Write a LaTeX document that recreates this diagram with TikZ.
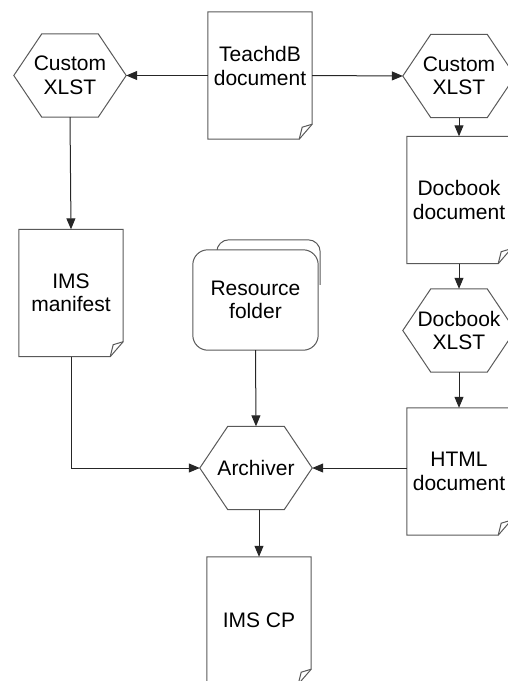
\documentclass[tikz,border=0pt]{standalone}
\usepackage{fontspec}
\setmainfont{Liberation Sans}
\usetikzlibrary{arrows.meta}

\tikzset{
  outline/.style={draw=black!65, line width=1pt},
  conn/.style={draw=black!85, line width=1pt, -{Triangle[length=11pt,width=9pt]}},
  docbox/.style={minimum width=104pt, minimum height=127pt, inner sep=0pt, align=center,
    font=\fontsize{21}{23.5}\selectfont},
  hexbox/.style={minimum width=112pt, minimum height=83pt, inner sep=0pt, align=center,
    font=\fontsize{21}{23.5}\selectfont},
}

% page with a folded corner
\newcommand{\docpage}[4][]{%
  \node[docbox, #1] (#2) at (#3) {#4};
  \draw[outline] (#2.north west) -- (#2.north east) -- ([yshift=15pt]#2.south east)
    -- ([xshift=-13pt]#2.south east) -- (#2.south west) -- cycle;
  \draw[outline] ([xshift=-13pt]#2.south east) -- ([xshift=-10pt,yshift=12pt]#2.south east)
    -- ([yshift=15pt]#2.south east);
}
% process step as a flat hexagon
\newcommand{\hexstep}[3]{%
  \node[hexbox] (#1) at (#2) {#3};
  \draw[outline] (#1.west) -- ([xshift=28pt]#1.north west) -- ([xshift=-28pt]#1.north east)
    -- (#1.east) -- ([xshift=-28pt]#1.south east) -- ([xshift=28pt]#1.south west) -- cycle;
}

\begin{document}
\begin{tikzpicture}[x=1pt, y=-1pt]
        \useasboundingbox (0,0) rectangle (507,681);

        % Pages
        \docpage[text depth=19pt]{teachdb}{260,75.5}{TeachdB\\document}
        \docpage{docbook}{459,200}{Docbook\\document}
        \docpage{manifest}{71,293}{IMS\\manifest}
        \docpage{html}{459,471.5}{HTML\\document}
        \docpage{imscp}{259,620.5}{IMS CP}

        % Transformations
        \hexstep{customl}{70,75.5}{Custom\\XLST}
        \hexstep{customr}{459,76}{Custom\\XLST}
        \hexstep{docxlst}{459,330.5}{Docbook\\XLST}
        \hexstep{archiver}{256,468}{Archiver}

        % Resource folder
        \node[docbox, minimum width=125pt, minimum height=100pt] (folder) at (255.5,300) {Resource\\folder};
        \draw[outline, rounded corners=12pt] ([xshift=24pt]folder.north west)
            -- ([xshift=24pt,yshift=10pt]folder.north west)
            -- ([xshift=2pt,yshift=10pt]folder.north east)
            -- ([xshift=2pt,yshift=-35pt]folder.north east);
        \draw[outline, fill=white, rounded corners=15pt] (folder.north west) rectangle (folder.south east);
        \node[docbox, minimum width=125pt, minimum height=100pt] at (folder) {Resource\\folder};

        % Connectors
        \draw[conn] (teachdb.west) -- (customl.east);
        \draw[conn] (teachdb.east) -- (customr.west);
        \draw[conn] (customl.south) -- (manifest.north);
        \draw[conn] (customr.south) -- (docbook.north);
        \draw[conn] (docbook.south) -- (docxlst.north);
        \draw[conn] (docxlst.south) -- (html.north);
        \draw[conn] (manifest.south) |- (archiver.west);
        \draw[conn] (folder.south) -- (archiver.north);
        \draw[conn] (archiver.east -| html.west) -- (archiver.east);
        \draw[conn] (imscp.north |- archiver.south) -- (imscp.north);
\end{tikzpicture}
\end{document}
